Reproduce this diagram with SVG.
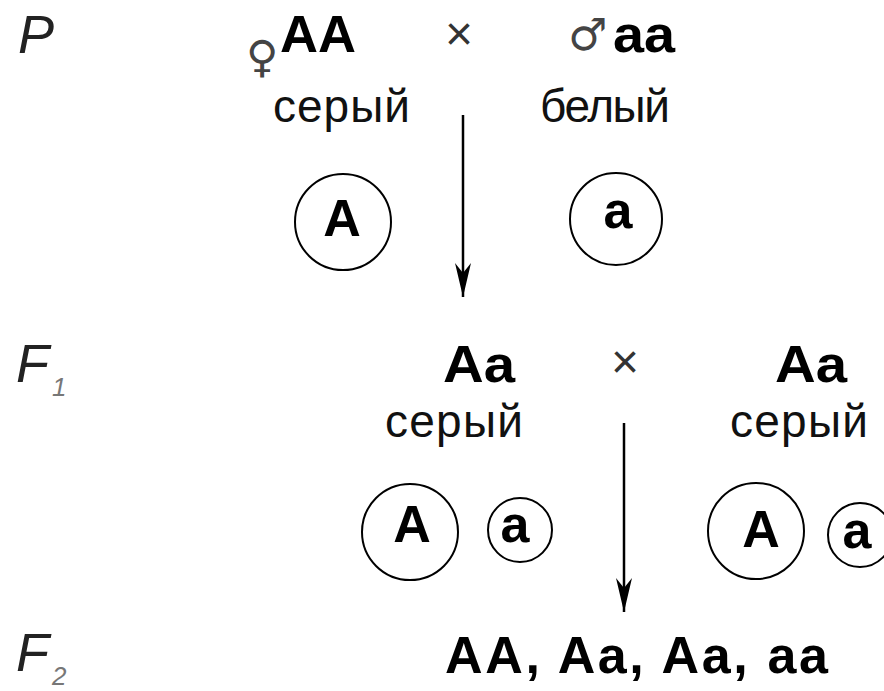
<svg xmlns="http://www.w3.org/2000/svg" width="884" height="691" viewBox="0 0 884 691">
<style>
.bg{fill:#ffffff}
.g{font-family:"Liberation Sans",Arial,sans-serif;font-weight:bold;fill:#000;font-size:52px}
.ph{font-family:"Liberation Sans",Arial,sans-serif;fill:#111;font-size:46px}
.lbl{font-family:"Liberation Sans",Arial,sans-serif;font-style:italic;fill:#222;font-size:54px}
.sub{font-family:"Liberation Sans",Arial,sans-serif;font-style:italic;fill:#777;font-size:26px}
.x{font-family:"Liberation Sans",Arial,sans-serif;fill:#333;font-size:48px;text-anchor:middle}
.sym{font-family:"DejaVu Sans",sans-serif;fill:#444;font-size:44px;text-anchor:middle}
.cell{fill:none;stroke:#000;stroke-width:2}
.arrow{stroke:#000;stroke-width:2.5;fill:none}
.mid{text-anchor:middle}
</style>
<defs>
<marker id="head" viewBox="0 0 34 16" refX="34" refY="8" markerWidth="34" markerHeight="16" markerUnits="userSpaceOnUse" orient="auto">
<path d="M0,0 L34,8 L0,16 L10,8 Z" fill="#000"/>
</marker>
</defs>
<rect class="bg" x="0" y="0" width="884" height="691"/>

<g id="label-P"><text class="lbl" x="18" y="53">P</text></g>
<g id="label-F1"><text class="lbl" x="16" y="382">F</text><text class="sub" x="52" y="396">1</text></g>
<g id="label-F2"><text class="lbl" x="16" y="671">F</text><text class="sub" x="52" y="685">2</text></g>

<g id="parent-female">
<text class="sym" x="262" y="72">♀</text>
<text class="g" x="280" y="52" textLength="76" lengthAdjust="spacingAndGlyphs">AA</text>
<text class="ph" x="273" y="122" textLength="137" lengthAdjust="spacing">серый</text>
</g>
<g id="cross-P"><text class="x" x="459" y="50">×</text></g>
<g id="parent-male">
<text class="sym" x="588" y="50">♂</text>
<text class="g" x="613" y="52" textLength="62" lengthAdjust="spacingAndGlyphs">aa</text>
<text class="ph" x="540" y="122" textLength="130" lengthAdjust="spacing">белый</text>
</g>
<g id="gamete-P-A"><circle class="cell" cx="343" cy="222" r="48"/><text class="g mid" x="342" y="236">A</text></g>
<g id="gamete-P-a"><circle class="cell" cx="616" cy="219" r="46"/><text class="g mid" x="618" y="228">a</text></g>

<g id="f1-left">
<text class="g" x="443" y="382" textLength="72" lengthAdjust="spacingAndGlyphs">Aa</text>
<text class="ph" x="385" y="437" textLength="138" lengthAdjust="spacing">серый</text>
</g>
<g id="cross-F1"><text class="x" x="625" y="378">×</text></g>
<g id="f1-right">
<text class="g" x="775" y="382" textLength="72" lengthAdjust="spacingAndGlyphs">Aa</text>
<text class="ph" x="730" y="437" textLength="138" lengthAdjust="spacing">серый</text>
</g>
<g id="gamete-F1-left-A"><circle class="cell" cx="410" cy="532" r="48"/><text class="g mid" x="412" y="542">A</text></g>
<g id="gamete-F1-left-a"><circle class="cell" cx="520" cy="530" r="32"/><text class="g mid" x="515" y="542">a</text></g>
<g id="gamete-F1-right-A"><circle class="cell" cx="756" cy="531" r="48"/><text class="g mid" x="761" y="547">A</text></g>
<g id="gamete-F1-right-a"><circle class="cell" cx="860" cy="535" r="32"/><text class="g mid" x="857" y="548">a</text></g>

<g id="f2"><text class="g" x="445" y="673" textLength="383" lengthAdjust="spacing">AA, Aa, Aa, aa</text></g>

<g id="connectors">
<line class="arrow" x1="463" y1="115" x2="463" y2="297" marker-end="url(#head)"/>
<line class="arrow" x1="624" y1="423" x2="624" y2="612" marker-end="url(#head)"/>
</g>
</svg>
